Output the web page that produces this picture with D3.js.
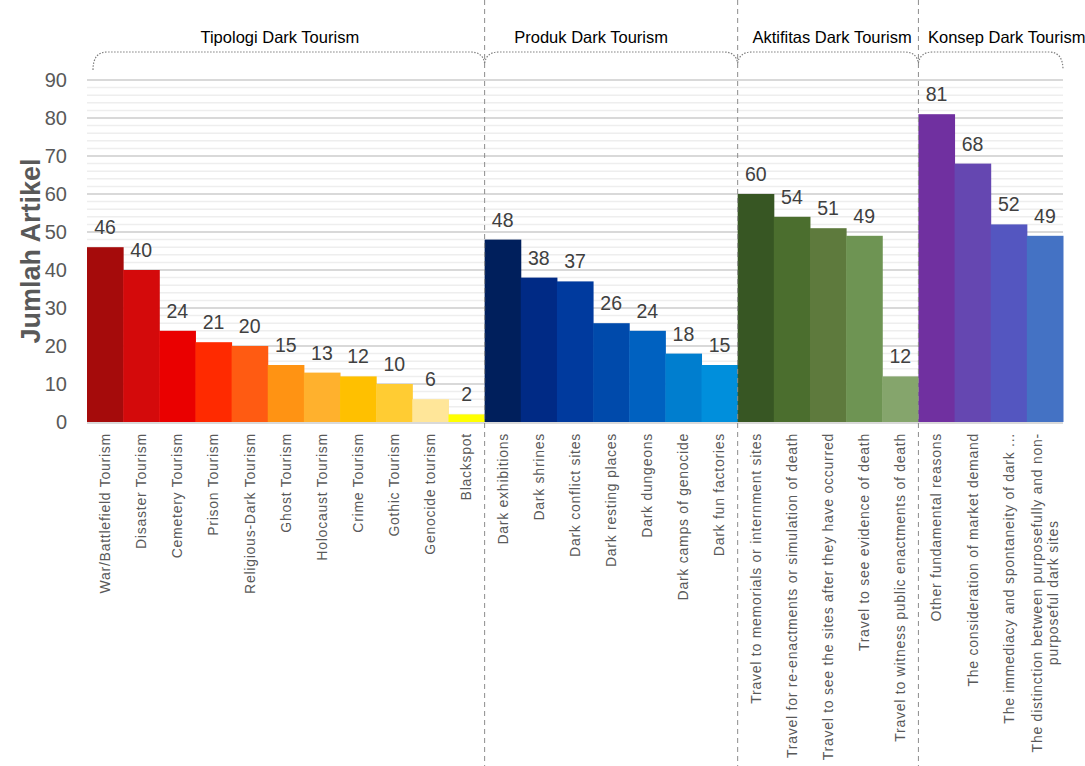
<!DOCTYPE html>
<html>
<head>
<meta charset="utf-8">
<script src="https://cdn.jsdelivr.net/npm/d3@7"></script>
<style>
  html, body { margin: 0; padding: 0; background: #fff; }
  svg { display: block; font-family: "Liberation Sans", Arial, sans-serif; }
</style>
</head>
<body>
<svg id="chart" width="1085" height="766"></svg>
<script>
// Article counts per dark-tourism category, grouped into four themes
const groupNames = ["Tipologi Dark Tourism", "Produk Dark Tourism", "Aktifitas Dark Tourism", "Konsep Dark Tourism"];

const tipologiLabels = ["War/Battlefield Tourism", "Disaster Tourism", "Cemetery Tourism", "Prison Tourism",
  "Religious-Dark Tourism", "Ghost Tourism", "Holocaust Tourism", "Crime Tourism", "Gothic Tourism",
  "Genocide tourism", "Blackspot"];
const tipologiValues = [46, 40, 24, 21, 20, 15, 13, 12, 10, 6, 2];
const tipologiColors = ["#A50B0B", "#D40A0B", "#EA0000", "#FF2A00", "#FF5B12", "#FF9313", "#FFB12D",
  "#FFC000", "#FFCC33", "#FFE699", "#FFFF00"];

const produkLabels = ["Dark exhibitions", "Dark shrines", "Dark conflict sites", "Dark resting places",
  "Dark dungeons", "Dark camps of genocide", "Dark fun factories"];
const produkValues = [48, 38, 37, 26, 24, 18, 15];
const produkColors = ["#001F5C", "#002A85", "#003A9E", "#004AAB", "#0061C0", "#007ECF", "#008FDC"];

const aktifitasLabels = ["Travel to memorials or internment sites",
  "Travel for re-enactments or simulation of death",
  "Travel to see the sites after they have occurred",
  "Travel to see evidence of death",
  "Travel to witness public enactments of death"];
const aktifitasValues = [60, 54, 51, 49, 12];
const aktifitasColors = ["#375623", "#4B6E2E", "#5E7A3D", "#6E9453", "#85A56C"];

const konsepLabels = ["Other fundamental reasons", "The consideration of market demand",
  "The immediacy and spontaneity of dark ...",
  "The distinction between purposefully and non-|purposeful dark sites"];
const konsepValues = [81, 68, 52, 49];
const konsepColors = ["#7030A0", "#6547B1", "#5456C0", "#4472C4"];

const yTicks = [0, 10, 20, 30, 40, 50, 60, 70, 80, 90];

// Flatten into one row per bar
const groups = [
  [tipologiLabels, tipologiValues, tipologiColors],
  [produkLabels, produkValues, produkColors],
  [aktifitasLabels, aktifitasValues, aktifitasColors],
  [konsepLabels, konsepValues, konsepColors]
];
const rows = [];
groups.forEach(([labs, vals, cols], g) => {
  labs.forEach((l, i) => rows.push({ key: g + ":" + i, label: l, value: vals[i], color: cols[i], group: g }));
});

const svg = d3.select("#chart");
const plotLeft = 87, plotRight = 1063, plotTop = 80, plotBottom = 422;

const x = d3.scaleBand().domain(rows.map(r => r.key)).range([plotLeft, plotRight]).padding(0);
const y = d3.scaleLinear().domain([0, 90]).range([plotBottom, plotTop]);

// Minor gridlines every 2, major every 10
const minor = d3.range(2, 90, 2).filter(v => v % 10 !== 0);
svg.append("g").selectAll("line").data(minor).join("line")
  .attr("x1", plotLeft).attr("x2", plotRight)
  .attr("y1", d => y(d)).attr("y2", d => y(d))
  .attr("stroke", "#eeeeee").attr("stroke-width", 1.5);

svg.append("g").selectAll("line").data(yTicks.slice(1)).join("line")
  .attr("x1", plotLeft).attr("x2", plotRight)
  .attr("y1", d => y(d)).attr("y2", d => y(d))
  .attr("stroke", "#d9d9d9").attr("stroke-width", 1.8);

// Y axis labels
const yAxis = d3.axisLeft(y).tickValues(yTicks).tickSize(0).tickPadding(20);
const ya = svg.append("g").attr("transform", `translate(${plotLeft},0)`).call(yAxis);
ya.select(".domain").remove();
ya.selectAll("text").attr("font-size", 20).attr("fill", "#595959")
  .attr("font-family", "Liberation Sans, Arial, sans-serif");

svg.append("text")
  .attr("transform", `translate(40,${(plotTop + plotBottom) / 2}) rotate(-90)`)
  .attr("text-anchor", "middle")
  .attr("font-size", 27).attr("font-weight", "bold").attr("fill", "#595959")
  .text("Jumlah Artikel");

// Bars
svg.append("g").selectAll("rect").data(rows).join("rect")
  .attr("x", d => x(d.key)).attr("width", x.bandwidth() + 0.5)
  .attr("y", d => y(d.value)).attr("height", d => y(0) - y(d.value))
  .attr("fill", d => d.color);

// Baseline
svg.append("line").attr("x1", plotLeft).attr("x2", plotRight)
  .attr("y1", y(0) + 1).attr("y2", y(0) + 1)
  .attr("stroke", "#d9d9d9").attr("stroke-width", 2);

// Value labels
svg.append("g").selectAll("text").data(rows).join("text")
  .attr("x", d => x(d.key) + x.bandwidth() / 2)
  .attr("y", d => y(d.value) - 13)
  .attr("text-anchor", "middle")
  .attr("font-size", 19.5).attr("fill", "#404040")
  .text(d => d.value);

// Category labels, rotated
const xl = svg.append("g").selectAll("text").data(rows).join("text")
  .attr("transform", d => `translate(${x(d.key) + x.bandwidth() / 2},433) rotate(-90)`)
  .attr("text-anchor", "end")
  .attr("font-size", 14).attr("letter-spacing", "0.75px").attr("fill", "#595959");
xl.each(function (d) {
  const parts = d.label.split("|");
  const t = d3.select(this);
  const off = -(parts.length - 1) * 8;
  parts.forEach((p, i) => {
    t.append("tspan").attr("x", 0).attr("y", off + i * 16).attr("dy", "0.35em")
      .attr("text-anchor", parts.length > 1 && i > 0 ? "middle" : "end")
      .text(p);
  });
});
// centre the wrapped continuation line under the first line
xl.filter(d => d.label.includes("|")).each(function () {
  const spans = d3.select(this).selectAll("tspan").nodes();
  const w = spans[0].getComputedTextLength();
  d3.select(spans[1]).attr("x", -w / 2);
});

// Group boundaries
const bounds = [];
let idx = 0;
groups.forEach(([labs]) => { bounds.push([idx, idx + labs.length]); idx += labs.length; });
const bx = i => i < rows.length ? x(rows[i].key) : plotRight;

svg.append("g").selectAll("line").data(bounds.slice(1)).join("line")
  .attr("x1", d => bx(d[0])).attr("x2", d => bx(d[0]))
  .attr("y1", 0).attr("y2", 766)
  .attr("stroke", "#8c8c8c").attr("stroke-width", 1).attr("stroke-dasharray", "5,4");

// Braces over each group
const braceTop = 52;
svg.append("g").selectAll("path").data(bounds).join("path")
  .attr("d", (d, i) => {
    const x0 = bx(d[0]), x1 = bx(d[1]);
    const first = i === 0, last = i === bounds.length - 1;
    const p = d3.path();
    if (first) {
      p.moveTo(x0 + 6, 70);
      p.quadraticCurveTo(x0 + 6, braceTop, x0 + 20, braceTop);
    } else {
      p.moveTo(x0, 63);
      p.quadraticCurveTo(x0 + 2, braceTop, x0 + 14, braceTop);
    }
    if (last) {
      p.lineTo(x1 - 14, braceTop);
      p.quadraticCurveTo(x1, braceTop, x1, 70);
    } else {
      p.lineTo(x1 - 14, braceTop);
      p.quadraticCurveTo(x1 - 2, braceTop, x1, 63);
    }
    return p.toString();
  })
  .attr("fill", "none").attr("stroke", "#7f7f7f").attr("stroke-width", 1.2)
  .attr("stroke-dasharray", "1.5,1.5");

// Group titles: centred over the group, nudged so they sit clear of the dividers
const titleNudge = [-6, -20, 4, 16];
svg.append("g").selectAll("text").data(bounds).join("text")
  .attr("x", (d, i) => (bx(d[0]) + bx(d[1])) / 2 + titleNudge[i])
  .attr("y", 43)
  .attr("text-anchor", "middle")
  .attr("font-size", 16.5).attr("fill", "#000")
  .text((d, i) => groupNames[i]);
</script>
</body>
</html>
